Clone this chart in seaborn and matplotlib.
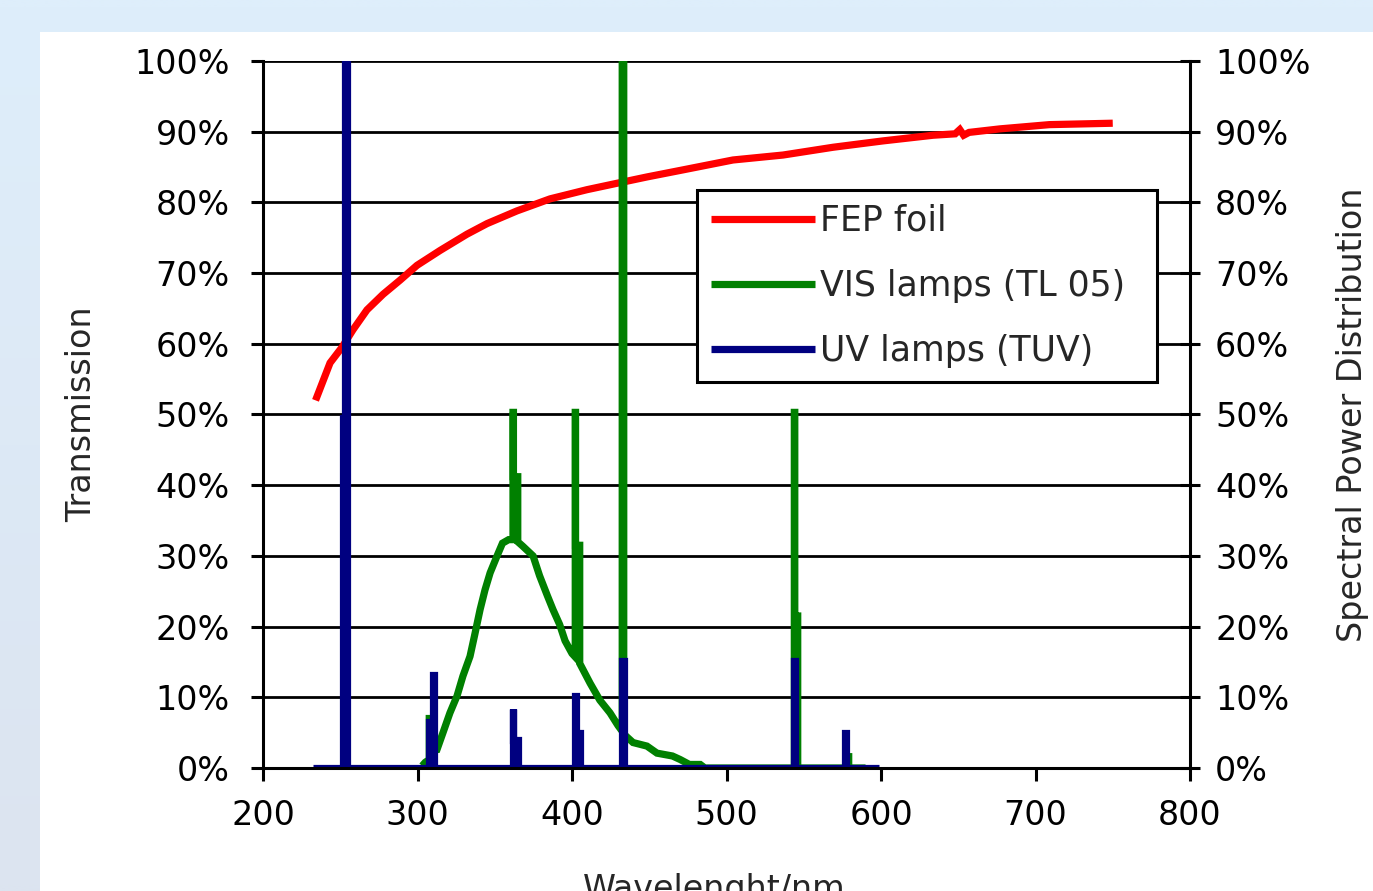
import numpy as np
import matplotlib
matplotlib.use("Agg")
import matplotlib.pyplot as plt
import seaborn as sns
from matplotlib.patches import Rectangle

# FEP foil transmission (%) vs wavelength (nm)
fep_nm = [234.0, 243.4, 251.1, 258.3, 267.3, 277.7, 288.7, 299.7, 314.6, 332.0, 345.0,
          364.4, 385.8, 409.7, 429.0, 448.5, 471.8, 504.2, 536.6, 569.0, 601.3, 633.7,
          648.0, 651.0, 653.5, 657.0, 677.0, 709.0, 750.0]
fep_pct = [52.0, 57.3, 59.5, 62.0, 64.8, 67.0, 69.0, 71.1, 73.2, 75.5, 77.0,
           78.8, 80.5, 81.8, 82.7, 83.6, 84.6, 86.0, 86.7, 87.8, 88.7, 89.5,
           89.7, 90.3, 89.5, 89.9, 90.4, 91.0, 91.2]

# VIS lamps (TL 05) spectral power distribution (%)
vis_nm = [303, 305, 307.6, 307.6, 308.6, 309.6, 312.6, 316.5, 321, 325.6, 329.4, 334, 337, 340.5, 343.7, 347, 351.5, 355, 359,
          361.8, 361.8, 362.1, 362.1, 364.9, 364.9, 368, 374.8, 379, 384, 387.7, 392, 395.5, 400,
          402.1, 402.1, 402.3, 402.3, 405, 405, 411.7, 418, 424.6, 429.8,
          432.5, 432.5, 433.5, 433.5, 439.5, 448.5, 455, 465, 470, 476, 483, 486,
          543.9, 543.9, 544.2, 544.2, 546.1, 546.1, 577.5, 577.5, 579.1, 579.1, 590]
vis_pct = [0.3, 0.8, 1.2, 7.0, 7.0, 2.5, 2.6, 5.0, 7.8, 10.2, 13.0, 15.8, 18.8, 22.4, 25.2, 27.6, 30.0, 31.8, 32.3,
           32.3, 50.3, 50.3, 41.2, 41.2, 32.0, 31.4, 30.0, 27.2, 24.4, 22.4, 20.3, 18.0, 16.2,
           15.7, 50.3, 50.3, 31.5, 31.5, 14.8, 12.0, 9.6, 7.8, 6.0,
           5.2, 100, 100, 4.8, 3.6, 3.1, 2.1, 1.7, 1.2, 0.5, 0.5, 0,
           0, 50.3, 50.3, 21.5, 21.5, 0, 0, 1.6, 1.6, 0, 0]

# UV lamps (TUV) spectral power distribution (%)
uv_nm = [232.4, 251.7, 251.7, 253.1, 253.1, 254.2, 254.2,
         307.6, 307.6, 310.2, 310.2, 310.5, 310.5,
         361.8, 361.8, 362.1, 362.1, 364.9, 364.9,
         402.1, 402.1, 402.4, 402.4, 405.0, 405.0,
         432.5, 432.5, 433.5, 433.5,
         543.9, 543.9, 544.2, 544.2,
         576.9, 576.9, 577.2, 577.2, 598.7]
uv_pct = [0, 0, 49.5, 49.5, 100, 100, 0,
          0, 6.5, 6.5, 13.2, 13.2, 0,
          0, 8.4, 8.4, 4.0, 4.0, 0,
          0, 10.2, 10.2, 5.0, 5.0, 0,
          0, 15.1, 15.1, 0,
          0, 15.1, 15.1, 0,
          0, 5.0, 5.0, 0, 0]

x_ticks = [200, 300, 400, 500, 600, 700, 800]
y_ticks = [0, 10, 20, 30, 40, 50, 60, 70, 80, 90, 100]
y_labels = [f"{t}%" for t in y_ticks]

sns.set_style("white")
plt.rcParams['font.family'] = ['DejaVu Sans']
plt.rcParams['lines.solid_joinstyle'] = 'miter'
plt.rcParams['lines.solid_capstyle'] = 'butt'

W, H = 1373, 891
fig = plt.figure(figsize=(W / 100, H / 100), dpi=100)

# light blue slide background with white panel
bg = fig.add_axes([0, 0, 1, 1], zorder=-10)
top_c = np.array([222, 238, 251]) / 255
bot_c = np.array([220, 228, 240]) / 255
t = np.linspace(0, 1, 64)[:, None]
grad = (top_c[None, :] * (1 - t) + bot_c[None, :] * t)[:, None, :].repeat(2, axis=1)
bg.imshow(grad, aspect='auto', extent=[0, 1, 0, 1], interpolation='bilinear')
bg.axis('off')
fig.add_artist(Rectangle((40 / W, 0), 1, 1 - 32 / H, transform=fig.transFigure,
                         facecolor='white', edgecolor='none', zorder=-5))

ax = fig.add_axes([263 / W, 1 - 768 / H, 927 / W, 707 / H])
ax.patch.set_alpha(0)

lw = 5.2
sns.lineplot(x=fep_nm, y=fep_pct, color='#ff0000', lw=lw, sort=False, estimator=None,
             ax=ax, label='FEP foil')
sns.lineplot(x=vis_nm, y=vis_pct, color='#008000', lw=lw, sort=False, estimator=None,
             ax=ax, label='VIS lamps (TL 05)')
sns.lineplot(x=uv_nm, y=uv_pct, color='#000080', lw=lw, sort=False, estimator=None,
             ax=ax, label='UV lamps (TUV)')

ax.set_xlim(200, 800)
ax.set_ylim(0, 100)
ax.set_xticks(x_ticks)
ax.set_yticks(y_ticks)
ax.set_yticklabels(y_labels)
ax.grid(axis='y', color='black', lw=2)
ax.grid(axis='x', visible=False)
for side in ['top', 'right']:
    ax.spines[side].set_visible(False)
for side in ['left', 'bottom']:
    ax.spines[side].set_color('black')
    ax.spines[side].set_linewidth(2.2)
ax.tick_params(axis='x', direction='out', length=9, width=2.2, pad=13,
               labelsize=24, bottom=True, colors='black')
ax.tick_params(axis='y', direction='out', length=9, width=2.2, pad=15,
               labelsize=24, left=True, colors='black')

ax2 = ax.twinx()
ax2.set_ylim(0, 100)
ax2.set_yticks(y_ticks)
ax2.set_yticklabels(y_labels)
ax2.grid(False)
for side in ['top', 'left', 'bottom']:
    ax2.spines[side].set_visible(False)
ax2.spines['right'].set_color('black')
ax2.spines['right'].set_linewidth(2.2)
ax2.tick_params(axis='y', direction='inout', length=14, width=2.2, pad=11,
                labelsize=24, right=True, colors='black')

ax.set_xlabel("Wavelenght/nm", fontsize=24)
ax.xaxis.set_label_coords(0.4865, -0.1485)
ax.set_ylabel("Transmission", fontsize=24)
ax.yaxis.set_label_coords(-0.178, 0.5)
ax2.set_ylabel("Spectral Power Distribution", fontsize=24)
ax2.yaxis.set_label_coords(1.1575, 0.5)

leg = ax.legend(loc='upper left', bbox_to_anchor=(0.468, 0.5446, 0.496, 0.273),
                mode='expand', borderaxespad=0, fontsize=25, frameon=True,
                fancybox=False, framealpha=1, edgecolor='black',
                handlelength=3.0, handletextpad=0.15, labelspacing=0.9, borderpad=0.4)
leg.get_frame().set_linewidth(2.2)
leg.set_zorder(5)

fig.savefig("out.png", dpi=100)
